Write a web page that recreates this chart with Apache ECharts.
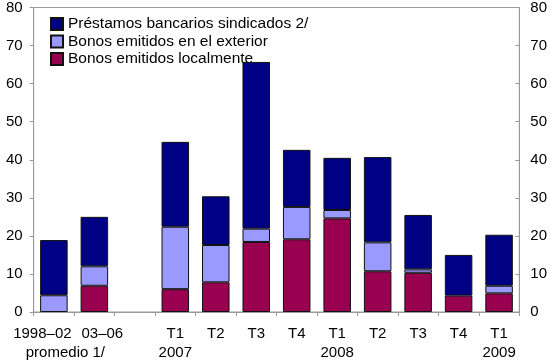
<!DOCTYPE html>
<html>
<head>
<meta charset="utf-8">
<script src="https://cdn.jsdelivr.net/npm/echarts@6/dist/echarts.min.js"></script>
<style>html,body{margin:0;padding:0;background:#fff}#c{width:550px;height:362px}</style>
</head>
<body>
<div id="c"></div>
<script>
var categories = ['1998–02', '03–06', '', 'T1', 'T2', 'T3', 'T4', 'T1', 'T2', 'T3', 'T4', 'T1'];
var subLabels = ['promedio 1/', '', '', '2007', '', '', '', '2008', '', '', '', '2009'];
var seriesNames = ['Préstamos bancarios sindicados 2/', 'Bonos emitidos en el exterior', 'Bonos emitidos localmente'];
var local    = [null, 6.9, null, 6.0, 7.8, 18.4, 19.1, 24.6, 10.7, 10.3, 4.3, 4.9];
var exterior = [4.4, 5.1, null, 16.4, 9.8, 3.5, 8.5, 2.2, 7.6, 0.9, null, 2.0];
var loans    = [14.5, 13.0, null, 22.3, 12.8, 43.8, 15.0, 13.7, 22.4, 14.3, 10.7, 13.4];
var yTicks = [0, 10, 20, 30, 40, 50, 60, 70, 80];

var chart = echarts.init(document.getElementById('c'));
var font = 'Liberation Sans, Arial, sans-serif';
var axisGray = '#999999';
function yAxis(pos) {
  return {
    type: 'value', position: pos, min: yTicks[0], max: yTicks[yTicks.length - 1], interval: 10,
    axisLine: { show: true, lineStyle: { color: axisGray } },
    axisTick: { show: true, inside: pos === 'right', length: 4, lineStyle: { color: axisGray } },
    splitLine: { show: false },
    axisLabel: { color: '#000', fontSize: 15, fontFamily: font, margin: 11 }
  };
}
chart.setOption({
  animation: false,
  grid: { left: 29, right: 30, top: 6, bottom: 50, show: true, borderColor: axisGray, borderWidth: 1 },
  legend: {
    data: seriesNames, orient: 'vertical', left: 45, top: 11, itemWidth: 12, itemHeight: 12, itemGap: 1.5,
    icon: 'rect',
    textStyle: { color: '#000', fontSize: 15.5, fontFamily: font }, selectedMode: false
  },
  xAxis: {
    type: 'category', data: categories,
    axisLine: { lineStyle: { color: axisGray } },
    axisTick: { show: true, length: 4, interval: 0, lineStyle: { color: axisGray } },
    axisLabel: {
      interval: 0, hideOverlap: false, margin: 12, color: '#000', fontSize: 15, fontFamily: font, lineHeight: 19,
      formatter: function (v, i) {
        var s = subLabels[i];
        if (i === 0) return '{a|' + v + '}\n{b|' + s + '}';
        if (i === 1) return '{c|' + v + '}';
        return s ? v + '\n' + s : v;
      },
      rich: {
        a: { fontSize: 15, fontFamily: font, color: '#000', padding: [0, 23, 0, 0], lineHeight: 19 },
        b: { fontSize: 15, fontFamily: font, color: '#000', padding: [0, 0, 0, 23], lineHeight: 19 },
        c: { fontSize: 15, fontFamily: font, color: '#000', padding: [0, 0, 0, 16], lineHeight: 19 }
      }
    }
  },
  yAxis: [yAxis('left'), yAxis('right')],
  series: [
    { name: seriesNames[2], type: 'bar', stack: 's', data: local, barCategoryGap: '32%',
      itemStyle: { color: '#99004f', borderColor: '#111', borderWidth: 1 } },
    { name: seriesNames[1], type: 'bar', stack: 's', data: exterior,
      itemStyle: { color: '#9999ff', borderColor: '#111', borderWidth: 1 } },
    { name: seriesNames[0], type: 'bar', stack: 's', data: loans,
      itemStyle: { color: '#000085', borderColor: '#111', borderWidth: 1 } }
  ]
});
</script>
</body>
</html>
